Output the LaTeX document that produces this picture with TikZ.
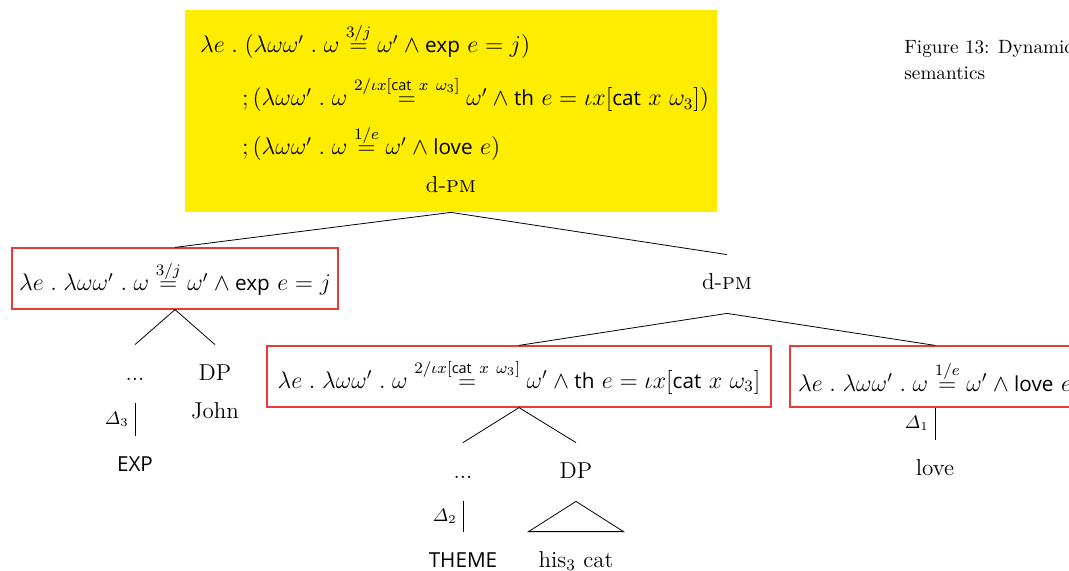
\documentclass[tikz,border=0pt]{standalone}
\usepackage{amsmath}
\usepackage{fontspec}
\setsansfont{Open Sans}[Scale=0.9]
\definecolor{boxred}{RGB}{232,58,58}
\definecolor{boxyellow}{RGB}{255,237,0}
\newcommand{\eqover}[1]{\overset{#1}{=}}

\begin{document}
\begin{tikzpicture}[x=0.5pt,y=-0.5pt,
    every node/.style={font=\fontsize{11.5}{14}\selectfont},
    redbox/.style={draw=boxred,line width=0.6pt,minimum height=30.5pt,inner sep=0pt},
    leaf/.style={inner xsep=1pt,inner ysep=9.5pt,text height=8pt,text depth=2pt},
    delta/.style={left,inner sep=3pt,font=\fontsize{9}{10}\selectfont}]
  \useasboundingbox (0,0) rectangle (1069,571);
  % root
  \node[fill=boxyellow,minimum width=266pt,minimum height=101pt,inner sep=0pt] (root) at (451,111) {};
  \node[anchor=base west] (lineA) at (193,53) {$\lambda e \mathrel{.} (\lambda\omega\omega' \mathrel{.} \omega \eqover{3/j} \omega' \wedge \textsf{exp}\ e = j)$};
  \node[anchor=base west] (lineB) at (235,106) {$;(\lambda\omega\omega' \mathrel{.} \omega \eqover{2/\iota x[\textsf{cat}\ x\ \omega_3]} \omega' \wedge \textsf{th}\ e = \iota x[\textsf{cat}\ x\ \omega_3])$};
  \node[anchor=base west] (lineC) at (235,155) {$;(\lambda\omega\omega' \mathrel{.} \omega \eqover{1/e} \omega' \wedge \textsf{love}\ e)$};
  \node[anchor=base] (rootlab) at (451,193) {d-\textsc{pm}};
  % left branch
  \node[redbox,minimum width=163pt] (expbox) at (175,278.5) {$\lambda e \mathrel{.} \lambda\omega\omega' \mathrel{.} \omega \eqover{3/j} \omega' \wedge \textsf{exp}\ e = j$};
  \node[leaf,anchor=base] (dotsA) at (135,380) {...};
  \node[leaf,anchor=base] (dpA) at (215,380) {DP};
  \node[anchor=base] (john) at (215,418) {John};
  \node[leaf,anchor=base] (expA) at (135,471) {\textsf{EXP}};
  % right branch
  \node[leaf,anchor=base] (dpm) at (727,290) {d-\textsc{pm}};
  \node[redbox,minimum width=252pt] (thbox) at (519,376.5) {$\lambda e \mathrel{.} \lambda\omega\omega' \mathrel{.} \omega \eqover{2/\iota x[\textsf{cat}\ x\ \omega_3]} \omega' \wedge \textsf{th}\ e = \iota x[\textsf{cat}\ x\ \omega_3]$};
  \node[redbox,minimum width=145pt] (lovebox) at (935,376.5) {$\lambda e \mathrel{.} \lambda\omega\omega' \mathrel{.} \omega \eqover{1/e} \omega' \wedge \textsf{love}\ e$};
  \node[leaf,anchor=base] (dotsB) at (463,478) {...};
  \node[leaf,anchor=base] (dpB) at (576,478) {DP};
  \node[leaf,anchor=base] (theme) at (463,567) {\textsf{THEME}};
  \node[leaf,anchor=base] (hiscat) at (576,567) {his$_3$ cat};
  \node[leaf,anchor=base] (love) at (935,475) {love};
  % caption
  \node[anchor=north west,align=left,inner sep=0pt,font=\fontsize{9.6}{13}\selectfont] (caption) at (904,40) {Figure 13: Dynamic\\semantics};
  % edges
  \draw (root.south) -- (expbox.north);
  \draw (root.south) -- (dpm.north);
  \draw (expbox.south) -- (dotsA.north);
  \draw (expbox.south) -- (dpA.north);
  \draw (dotsA.south) -- node[delta] {$\varDelta_3$} (expA.north);
  \draw (dpm.south) -- (thbox.north);
  \draw (dpm.south) -- (lovebox.north);
  \draw (thbox.south) -- (dotsB.north);
  \draw (thbox.south) -- (dpB.north);
  \draw (dotsB.south) -- node[delta] {$\varDelta_2$} (theme.north);
  \draw (dpB.south) -- ([xshift=-23.75pt]hiscat.north) -- ([xshift=23.75pt]hiscat.north) -- cycle;
  \draw (lovebox.south) -- node[delta] {$\varDelta_1$} (love.north);
\end{tikzpicture}
\end{document}
